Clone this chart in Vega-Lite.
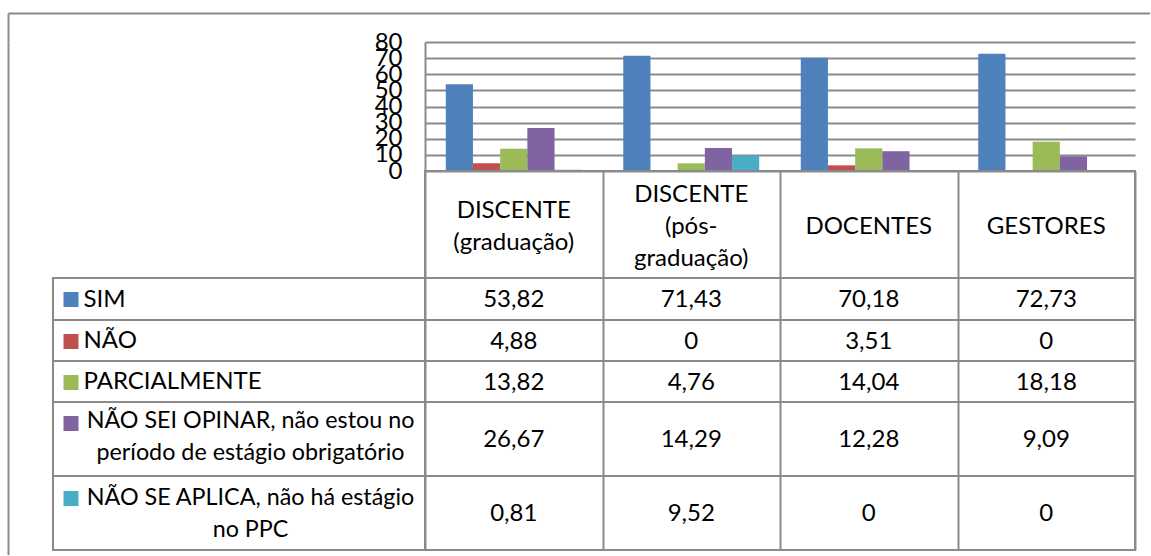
{
  "$schema": "https://vega.github.io/schema/vega-lite/v6.json",
  "autosize": {"type": "pad"},
  "padding": {"left": 8, "top": 13, "right": 0, "bottom": 0},
  "background": "white",
  "config": {
    "view": {"stroke": null},
    "font": "Lato",
    "locale": {"number": {"decimal": ",", "thousands": ".", "grouping": [3], "currency": ["R$", ""]}},
    "axis": {"labelFont": "Lato"},
    "text": {"font": "Lato"}
  },
  "datasets": {
    "vals": [
      {"category": "DISCENTE (graduação)", "series": "SIM", "value": 53.82},
      {"category": "DISCENTE (pós-graduação)", "series": "SIM", "value": 71.43},
      {"category": "DOCENTES", "series": "SIM", "value": 70.18},
      {"category": "GESTORES", "series": "SIM", "value": 72.73},
      {"category": "DISCENTE (graduação)", "series": "NÃO", "value": 4.88},
      {"category": "DISCENTE (pós-graduação)", "series": "NÃO", "value": 0},
      {"category": "DOCENTES", "series": "NÃO", "value": 3.51},
      {"category": "GESTORES", "series": "NÃO", "value": 0},
      {"category": "DISCENTE (graduação)", "series": "PARCIALMENTE", "value": 13.82},
      {"category": "DISCENTE (pós-graduação)", "series": "PARCIALMENTE", "value": 4.76},
      {"category": "DOCENTES", "series": "PARCIALMENTE", "value": 14.04},
      {"category": "GESTORES", "series": "PARCIALMENTE", "value": 18.18},
      {"category": "DISCENTE (graduação)", "series": "NÃO SEI OPINAR, não estou no período de estágio obrigatório", "value": 26.67},
      {"category": "DISCENTE (pós-graduação)", "series": "NÃO SEI OPINAR, não estou no período de estágio obrigatório", "value": 14.29},
      {"category": "DOCENTES", "series": "NÃO SEI OPINAR, não estou no período de estágio obrigatório", "value": 12.28},
      {"category": "GESTORES", "series": "NÃO SEI OPINAR, não estou no período de estágio obrigatório", "value": 9.09},
      {"category": "DISCENTE (graduação)", "series": "NÃO SE APLICA, não há estágio no PPC", "value": 0.81},
      {"category": "DISCENTE (pós-graduação)", "series": "NÃO SE APLICA, não há estágio no PPC", "value": 9.52},
      {"category": "DOCENTES", "series": "NÃO SE APLICA, não há estágio no PPC", "value": 0},
      {"category": "GESTORES", "series": "NÃO SE APLICA, não há estágio no PPC", "value": 0}
    ],
    "cats": [
      {"category": "DISCENTE (graduação)", "label": "DISCENTE\n(graduação)"},
      {"category": "DISCENTE (pós-graduação)", "label": "DISCENTE\n(pós-\ngraduação)"},
      {"category": "DOCENTES", "label": "DOCENTES"},
      {"category": "GESTORES", "label": "GESTORES"}
    ]
  },
  "bounds": "flush",
  "spacing": 0,
  "vconcat": [
    {
      "width": 1142,
      "height": 29,
      "data": {"values": [{"a": 0.5, "b": 0.5}]},
      "mark": {"type": "point", "opacity": 0, "size": 1},
      "encoding": {
        "x": {"field": "a", "type": "quantitative", "scale": {"domain": [0, 1]}, "axis": {"orient": "top", "title": null, "labels": false, "ticks": false, "grid": false, "domain": true, "domainColor": "#8a8a8a", "domainWidth": 2}},
        "y": {"field": "b", "type": "quantitative", "scale": {"domain": [0, 1]}, "axis": {"orient": "left", "title": null, "labels": false, "ticks": false, "grid": false, "domain": true, "domainColor": "#8a8a8a", "domainWidth": 2}}
      },
      "view": {"stroke": null}
    },
    {
      "bounds": "flush",
      "spacing": 0,
      "hconcat": [
        {
          "width": 45,
          "height": 513,
          "data": {"values": [{"a": 0.5, "b": 0.5}]},
          "mark": {"type": "point", "opacity": 0, "size": 1},
          "encoding": {
            "y": {"field": "b", "type": "quantitative", "scale": {"domain": [0, 1]}, "axis": {"orient": "left", "title": null, "labels": false, "ticks": false, "grid": false, "domain": true, "domainColor": "#8a8a8a", "domainWidth": 2}}
          },
          "view": {"stroke": null}
        },
        {
          "columns": 2,
          "spacing": 0,
          "bounds": "flush",
          "align": "each",
          "concat": [
            {"width": 372, "height": 129, "data": {"values": [{"a": 1}]}, "mark": {"type": "text", "text": ""}, "view": {"stroke": null}},
            {
              "width": 710,
              "height": 129,
              "data": {"name": "vals"},
              "mark": {"type": "bar"},
              "encoding": {
                "x": {"field": "category", "type": "nominal", "sort": ["DISCENTE (graduação)", "DISCENTE (pós-graduação)", "DOCENTES", "GESTORES"], "scale": {"paddingInner": 0.234, "paddingOuter": 0.117}, "axis": null},
                "xOffset": {"field": "series", "type": "nominal", "sort": ["SIM", "NÃO", "PARCIALMENTE", "NÃO SEI OPINAR, não estou no período de estágio obrigatório", "NÃO SE APLICA, não há estágio no PPC"]},
                "y": {"field": "value", "type": "quantitative", "scale": {"domain": [0, 80], "nice": false},
                  "axis": {"values": [0, 10, 20, 30, 40, 50, 60, 70, 80], "title": null, "grid": true, "gridColor": "#8a8a8a", "gridWidth": 2, "domain": true, "domainColor": "#8a8a8a", "domainWidth": 2, "ticks": false, "labelFont": "Lato", "labelFontSize": 24, "labelColor": "#000000", "labelPadding": 23, "labelOverlap": false, "labelFlush": false, "labelBound": false}},
                "color": {"field": "series", "type": "nominal",
                  "scale": {"domain": ["SIM", "NÃO", "PARCIALMENTE", "NÃO SEI OPINAR, não estou no período de estágio obrigatório", "NÃO SE APLICA, não há estágio no PPC"], "range": ["#4F81BD", "#C0504D", "#9BBB59", "#8064A2", "#4BACC6"]},
                  "legend": null}
              },
              "view": {"stroke": null}
            },
            {"width": 372, "height": 107, "data": {"values": [{"a": 1}]}, "mark": {"type": "text", "text": ""}, "view": {"stroke": null}},
            {
              "width": 710,
              "height": 107,
              "data": {"name": "cats"},
              "mark": {"type": "text", "lineBreak": "\n", "lineHeight": 32, "font": "Lato", "fontSize": 24, "baseline": "middle", "color": "#000000", "dy": {"expr": "2 - 16 * (length(split(datum.label, '\\n')) - 1)"}},
              "encoding": {
                "x": {"field": "category", "type": "nominal", "sort": ["DISCENTE (graduação)", "DISCENTE (pós-graduação)", "DOCENTES", "GESTORES"], "scale": {"padding": 0}, "axis": {"title": null, "labels": false, "ticks": false, "domain": false, "grid": true, "tickBand": "extent", "gridColor": "#8a8a8a", "gridWidth": 2}},
                "text": {"field": "label"}
              },
              "view": {"stroke": "#8a8a8a", "strokeWidth": 2}
            },
            {"width": 372, "height": 42, "data": {"values": [{"a": 1}]}, "mark": {"type": "text", "text": ""}, "view": {"stroke": "#8a8a8a", "strokeWidth": 2}},
            {
              "width": 710,
              "height": 42,
              "data": {"name": "vals"},
              "transform": [{"filter": "datum.series == 'SIM'"}],
              "mark": {"type": "text", "font": "Lato", "fontSize": 24, "baseline": "middle", "color": "#000000", "dy": 1},
              "encoding": {
                "x": {"field": "category", "type": "nominal", "sort": ["DISCENTE (graduação)", "DISCENTE (pós-graduação)", "DOCENTES", "GESTORES"], "scale": {"padding": 0}, "axis": {"title": null, "labels": false, "ticks": false, "domain": false, "grid": true, "tickBand": "extent", "gridColor": "#8a8a8a", "gridWidth": 2}},
                "y": {"field": "series", "type": "nominal", "scale": {"padding": 0}, "axis": {"title": null, "orient": "left", "domain": false, "grid": false, "ticks": true, "tickColor": "#4F81BD", "tickSize": 15, "tickWidth": 15, "offset": 347, "labelAlign": "left", "labelPadding": -20, "labelFont": "Lato", "labelFontSize": 24, "labelColor": "#000000", "labelLimit": 0, "labelBaseline": "middle"}},
                "text": {"field": "value", "type": "quantitative", "format": ".2~f"}
              },
              "view": {"stroke": "#8a8a8a", "strokeWidth": 2}
            },
            {"width": 372, "height": 41, "data": {"values": [{"a": 1}]}, "mark": {"type": "text", "text": ""}, "view": {"stroke": "#8a8a8a", "strokeWidth": 2}},
            {
              "width": 710,
              "height": 41,
              "data": {"name": "vals"},
              "transform": [{"filter": "datum.series == 'NÃO'"}],
              "mark": {"type": "text", "font": "Lato", "fontSize": 24, "baseline": "middle", "color": "#000000", "dy": 1},
              "encoding": {
                "x": {"field": "category", "type": "nominal", "sort": ["DISCENTE (graduação)", "DISCENTE (pós-graduação)", "DOCENTES", "GESTORES"], "scale": {"padding": 0}, "axis": {"title": null, "labels": false, "ticks": false, "domain": false, "grid": true, "tickBand": "extent", "gridColor": "#8a8a8a", "gridWidth": 2}},
                "y": {"field": "series", "type": "nominal", "scale": {"padding": 0}, "axis": {"title": null, "orient": "left", "domain": false, "grid": false, "ticks": true, "tickColor": "#C0504D", "tickSize": 15, "tickWidth": 15, "offset": 347, "labelAlign": "left", "labelPadding": -20, "labelFont": "Lato", "labelFontSize": 24, "labelColor": "#000000", "labelLimit": 0, "labelBaseline": "middle"}},
                "text": {"field": "value", "type": "quantitative", "format": ".2~f"}
              },
              "view": {"stroke": "#8a8a8a", "strokeWidth": 2}
            },
            {"width": 372, "height": 41, "data": {"values": [{"a": 1}]}, "mark": {"type": "text", "text": ""}, "view": {"stroke": "#8a8a8a", "strokeWidth": 2}},
            {
              "width": 710,
              "height": 41,
              "data": {"name": "vals"},
              "transform": [{"filter": "datum.series == 'PARCIALMENTE'"}],
              "mark": {"type": "text", "font": "Lato", "fontSize": 24, "baseline": "middle", "color": "#000000", "dy": 1},
              "encoding": {
                "x": {"field": "category", "type": "nominal", "sort": ["DISCENTE (graduação)", "DISCENTE (pós-graduação)", "DOCENTES", "GESTORES"], "scale": {"padding": 0}, "axis": {"title": null, "labels": false, "ticks": false, "domain": false, "grid": true, "tickBand": "extent", "gridColor": "#8a8a8a", "gridWidth": 2}},
                "y": {"field": "series", "type": "nominal", "scale": {"padding": 0}, "axis": {"title": null, "orient": "left", "domain": false, "grid": false, "ticks": true, "tickColor": "#9BBB59", "tickSize": 15, "tickWidth": 15, "offset": 347, "labelAlign": "left", "labelPadding": -20, "labelFont": "Lato", "labelFontSize": 24, "labelColor": "#000000", "labelLimit": 0, "labelBaseline": "middle"}},
                "text": {"field": "value", "type": "quantitative", "format": ".2~f"}
              },
              "view": {"stroke": "#8a8a8a", "strokeWidth": 2}
            },
            {"width": 372, "height": 74, "data": {"values": [{"a": 1}]}, "mark": {"type": "text", "text": ""}, "view": {"stroke": "#8a8a8a", "strokeWidth": 2}},
            {
              "width": 710,
              "height": 74,
              "data": {"name": "vals"},
              "transform": [{"filter": "datum.series == 'NÃO SEI OPINAR, não estou no período de estágio obrigatório'"}],
              "mark": {"type": "text", "font": "Lato", "fontSize": 24, "baseline": "middle", "color": "#000000", "dy": 1},
              "encoding": {
                "x": {"field": "category", "type": "nominal", "sort": ["DISCENTE (graduação)", "DISCENTE (pós-graduação)", "DOCENTES", "GESTORES"], "scale": {"padding": 0}, "axis": {"title": null, "labels": false, "ticks": false, "domain": false, "grid": true, "tickBand": "extent", "gridColor": "#8a8a8a", "gridWidth": 2}},
                "y": {"field": "series", "type": "nominal", "scale": {"padding": 0}, "axis": {"title": null, "orient": "left", "domain": false, "grid": false, "ticks": true, "tickColor": "#8064A2", "tickSize": 15, "tickWidth": 15, "offset": 347, "tickOffset": -16.5, "labelOffset": -2.5, "labelAlign": "center", "labelPadding": -187, "labelFont": "Lato", "labelFontSize": 23.3, "labelColor": "#000000", "labelLimit": 0, "labelBaseline": "middle", "labelLineHeight": 32, "labelExpr": "[substring(datum.label, 0, 28), substring(datum.label, 29)]"}},
                "text": {"field": "value", "type": "quantitative", "format": ".2~f"}
              },
              "view": {"stroke": "#8a8a8a", "strokeWidth": 2}
            },
            {"width": 372, "height": 74, "data": {"values": [{"a": 1}]}, "mark": {"type": "text", "text": ""}, "view": {"stroke": "#8a8a8a", "strokeWidth": 2}},
            {
              "width": 710,
              "height": 74,
              "data": {"name": "vals"},
              "transform": [{"filter": "datum.series == 'NÃO SE APLICA, não há estágio no PPC'"}],
              "mark": {"type": "text", "font": "Lato", "fontSize": 24, "baseline": "middle", "color": "#000000", "dy": 1},
              "encoding": {
                "x": {"field": "category", "type": "nominal", "sort": ["DISCENTE (graduação)", "DISCENTE (pós-graduação)", "DOCENTES", "GESTORES"], "scale": {"padding": 0}, "axis": {"title": null, "labels": false, "ticks": false, "domain": false, "grid": true, "tickBand": "extent", "gridColor": "#8a8a8a", "gridWidth": 2}},
                "y": {"field": "series", "type": "nominal", "scale": {"padding": 0}, "axis": {"title": null, "orient": "left", "domain": false, "grid": false, "ticks": true, "tickColor": "#4BACC6", "tickSize": 15, "tickWidth": 15, "offset": 347, "tickOffset": -15.5, "labelOffset": -0.5, "labelAlign": "center", "labelPadding": -187, "labelFont": "Lato", "labelFontSize": 23.3, "labelColor": "#000000", "labelLimit": 0, "labelBaseline": "middle", "labelLineHeight": 32, "labelExpr": "[substring(datum.label, 0, 29), substring(datum.label, 30)]"}},
                "text": {"field": "value", "type": "quantitative", "format": ".2~f"}
              },
              "view": {"stroke": "#8a8a8a", "strokeWidth": 2}
            }
          ]
        }
      ]
    }
  ]
}
